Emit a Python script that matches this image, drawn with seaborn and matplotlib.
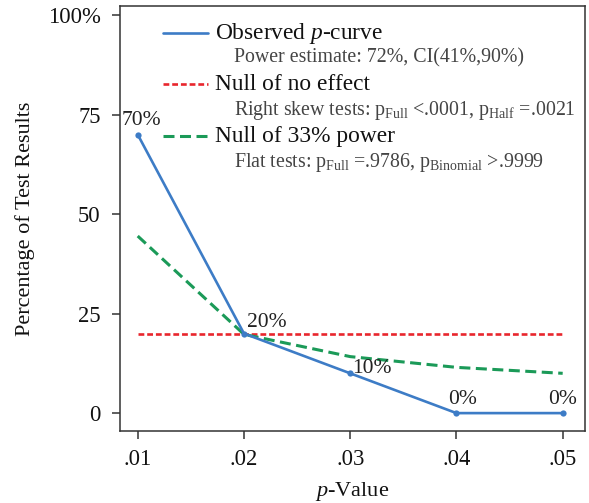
import matplotlib
matplotlib.use("Agg")
import matplotlib.pyplot as plt
import seaborn as sns
import pandas as pd

# p-value bins and the share of significant results in each
p_values = [0.01, 0.02, 0.03, 0.04, 0.05]
observed = [70, 20, 10, 0, 0]
null_no_effect = [20, 20, 20, 20, 20]
null_33_power = [44.5, 19.8, 14.2, 11.5, 10.0]

x_tick_labels = [".01", ".02", ".03", ".04", ".05"]
y_ticks = [0, 25, 50, 75, 100]
y_tick_labels = ["0", "25", "50", "75", "100%"]

legend_titles = [r"Observed $\mathit{p}$-curve", "Null of no effect", "Null of 33% power"]
legend_notes = [
    "Power estimate: 72%, CI(41%,90%)",
    r"Right skew tests: $\mathrm{p}_{\mathrm{Full}}$ <.0001, $\mathrm{p}_{\mathrm{Half}}$ =.0021",
    r"Flat tests: $\mathrm{p}_{\mathrm{Full}}$ =.9786, $\mathrm{p}_{\mathrm{Binomial}}$ >.9999",
]

BLUE = "#3d7cc6"
RED = "#e8262d"
GREEN = "#1b9a58"
RED_DASH = (0, (2.2, 1.1))
GREEN_DASH = (0, (3.6, 1.8))

sns.set_style("ticks")
plt.rcParams["font.family"] = ["Liberation Serif", "DejaVu Serif"]
plt.rcParams["mathtext.fontset"] = "custom"
plt.rcParams["mathtext.rm"] = "Liberation Serif"
plt.rcParams["mathtext.it"] = "Liberation Serif:italic"

df = pd.DataFrame({
    "p": p_values,
    "observed": observed,
    "null0": null_no_effect,
    "null33": null_33_power,
})

fig = plt.figure(figsize=(5.89, 5.03), dpi=100)
ax = fig.add_axes([0.2037, 0.1431, 0.7895, 0.8449])

sns.lineplot(data=df, x="p", y="null0", ax=ax, color=RED, lw=1.9,
             linestyle=RED_DASH)
sns.lineplot(data=df, x="p", y="null33", ax=ax, color=GREEN, lw=2.2,
             linestyle=GREEN_DASH)
sns.lineplot(data=df, x="p", y="observed", ax=ax, color=BLUE, lw=1.9,
             marker="o", markersize=4.5, markeredgewidth=0)

# value labels on the observed curve (offsets in points, baseline-anchored)
label_offsets = [(3, 6.8), (2, 4.8), (1.2, 0), (4.3, 6.5), (0, 6.5)]
label_ha = ["center", "left", "left", "center", "center"]
for xv, yv, (dx, dy), ha in zip(p_values, observed, label_offsets, label_ha):
    ax.annotate(f"{yv}%", (xv, yv), xytext=(dx, dy), textcoords="offset points",
                ha=ha, va="baseline", fontsize=15.5, color="#222222")

# legend block
handle_styles = [
    dict(color=BLUE, lw=1.9, linestyle="-"),
    dict(color=RED, lw=1.9, linestyle=RED_DASH),
    dict(color=GREEN, lw=2.2, linestyle=GREEN_DASH),
]
title_y = [0.9365, 0.8165, 0.694]
note_y = [0.8776, 0.7553, 0.633]
for style, title, note, ty, ny in zip(handle_styles, legend_titles, legend_notes, title_y, note_y):
    ax.plot([0.0925, 0.189], [ty, ty], transform=ax.transAxes, **style)
    ax.text(0.204, ty, title, transform=ax.transAxes, ha="left", va="center",
            fontsize=16.8, color="#111111")
    ax.text(0.245, ny, note, transform=ax.transAxes, ha="left", va="center",
            fontsize=14.3, color="#444444")

ax.set_xlim(0.00833, 0.0521)
ax.set_ylim(-4.5, 102.3)
ax.set_xticks(p_values)
ax.set_xticklabels(x_tick_labels)
ax.set_yticks(y_ticks)
ax.set_yticklabels(y_tick_labels)
ax.tick_params(axis="both", direction="out", length=5.5, width=1.1, colors="#333333",
               labelsize=16.3, labelcolor="#111111")
ax.tick_params(axis="y", pad=8.5)
ax.tick_params(axis="x", pad=7.5)

ax.set_xlabel(r"$\mathit{p}$-Value", fontsize=16, color="#111111", labelpad=7)
ax.set_ylabel("Percentage of Test Results", fontsize=16, color="#111111", labelpad=9)

for side in ["top", "right", "bottom", "left"]:
    ax.spines[side].set_visible(True)
    ax.spines[side].set_color("#333333")
    ax.spines[side].set_linewidth(1.1)

fig.savefig("out.png", dpi=100)
